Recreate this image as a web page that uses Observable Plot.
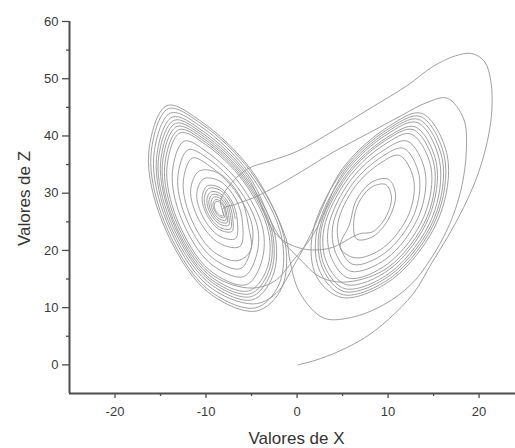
<!DOCTYPE html>
<html>
<head>
<meta charset="utf-8">
<script src="https://cdn.jsdelivr.net/npm/d3@7"></script>
<script src="https://cdn.jsdelivr.net/npm/@observablehq/plot@0.6"></script>
<style>
  body { margin: 0; background: #fff; }
  #chart { width: 515px; height: 448px; }
</style>
</head>
<body>
<div id="chart"></div>
<script>
// Trajectory of the Lorenz system projected on the X–Z plane, as [x, z] pairs in time order.

// Start near the origin, sweep up the right side, then fall toward the left focus.
const transient = [
  [0.1,0],[2,0.8],[4.5,2.3],[7.5,4.8],[10,7.9],[12.8,12.5],[14.8,17.8],[16.6,22.5],[18.3,27.5],
  [19.8,33],[20.9,39],[21.4,44.5],[21.3,49.5],[20.6,53],[19.2,54.4],[17.4,54],[15,52.2],[12,48.7],
  [8,44.8],[4,40.9],[0,37.3],[-3,35.6],[-5.5,34.2],[-7.6,31.0],[-8.4,28.6]
];

// First stay on the left wing: a tight spiral around the focus that widens into the outer band.
const leftPass1 = [
  [-8.09,26.07],[-8.51,26.18],[-8.93,26.94],[-9.09,27.91],[-8.91,28.53],[-8.49,28.42],[-8.07,27.66],[-7.91,26.69],
  [-7.83,25.3],[-8.51,25.47],[-9.19,26.71],[-9.46,28.3],[-9.17,29.3],[-8.49,29.13],[-7.81,27.89],[-7.54,26.3],
  [-7.52,24.38],[-8.52,24.63],[-9.51,26.44],[-9.91,28.76],[-9.48,30.22],[-8.48,29.97],[-7.49,28.16],[-7.09,25.84],
  [-7.16,23.31],[-8.53,23.65],[-9.88,26.13],[-10.43,29.29],[-9.84,31.29],[-8.47,30.95],[-7.12,28.47],[-6.57,25.31],
  [-6.75,22.08],[-8.54,22.52],[-10.31,25.77],[-11.02,29.9],[-10.25,32.52],[-8.46,32.08],[-6.69,28.83],[-5.98,24.7],
  [-6.28,20.7],[-8.55,21.26],[-10.79,25.36],[-11.69,30.59],[-10.72,33.9],[-8.45,33.34],[-6.21,29.24],[-5.31,24.01],
  [-5.1,20.0],
  [-6.6,18.2],[-9.35,20.0],[-11.75,26.0],[-12.5,32.0],[-11.5,36.15],[-9.6,34.75],[-6.85,30.5],[-4.95,24.5],[-5.1,20.0],
  [-6.25,16.8],[-9.45,18.9],[-12.25,25.85],[-13.1,32.8],[-11.95,37.6],[-9.75,36.0],[-6.55,31.05],[-4.35,24.1],[-4.5,18.9],
  [-5.9,15.4],[-9.55,17.75],[-12.75,25.7],[-13.7,33.6],[-12.4,39.1],[-9.9,37.2],[-6.25,31.6],[-3.75,23.7],[-3.95,17.75],
  [-5.6,14.0],[-9.65,16.6],[-13.2,25.5],[-14.3,34.4],[-12.85,40.55],[-10.05,38.5],[-5.95,32.2],[-3.15,23.3],[-3.35,16.6],
  [-5.35,12.9],[-9.75,15.8],[-13.6,25.4],[-14.8,35.0],[-13.2,41.65],[-10.15,39.4],[-5.75,32.6],[-2.7,23.0],[-2.95,15.8],
  [-5.1,11.9],[-9.8,15.0],[-13.95,25.3],[-15.25,35.6],[-13.5,42.75],[-10.25,40.3],[-5.5,33.0],[-2.25,22.7],
  [0.6,20.3],[3.6,20.4]
];

// First stay on the right wing: two small turns near the focus, then wider loops.
const rightPass1 = [
  [6.86,22.9],[8.33,23.27],[9.79,25.94],[10.37,29.34],[9.74,31.5],[8.27,31.13],[6.81,28.46],[6.23,25.06],
  [6.55,21.98],[8.34,22.42],[10.11,25.67],[10.82,29.8],[10.05,32.42],[8.26,31.98],[6.49,28.73],[5.78,24.6],
  [4.75,20.5],
  [6.4,18.7],[9.5,20.5],[12.3,26.4],[12.8,32.5],[11.25,36.6],[9.2,35.3],[6.4,31.2],[4.5,24.85],[4.75,20.5],
  [6.15,17.55],[9.65,19.55],[12.85,26.25],[13.4,33.2],[11.7,37.85],[9.35,36.4],[6.15,31.75],[3.95,24.5],[4.25,19.55],
  [5.9,16.35],[9.85,18.6],[13.4,26.1],[14.05,33.9],[12.1,39.1],[9.5,37.5],[5.9,32.3],[3.45,24.15],[3.8,18.6],
  [5.7,15.15],[10.0,17.7],[13.95,25.95],[14.7,34.6],[12.5,40.35],[9.65,38.55],[5.7,32.8],[2.95,23.8],[3.3,17.7],
  [5.45,14.0],[10.2,16.75],[14.5,25.8],[15.3,35.3],[12.95,41.6],[9.8,39.65],[5.45,33.35],[2.45,23.45],[2.85,16.75],
  [5.2,12.8],[10.35,15.8],[15.1,25.7],[15.95,36.0],[13.35,42.9],[9.9,40.7],[5.2,33.85],[1.9,23.1],
  [-0.3,18.5],[-2.6,14.5]
];

// Back on the left wing, in the outer band.
const leftPass2 = [
  [-5.45,13.45],[-9.7,16.2],[-13.4,25.45],[-14.55,34.7],[-13.0,41.1],[-10.1,38.95],[-5.85,32.4],[-2.9,23.15],[-3.15,16.2],
  [-5.2,12.4],[-9.8,15.4],[-13.75,25.35],[-15.0,35.3],[-13.35,42.2],[-10.2,39.85],[-5.65,32.8],[-2.45,22.85],[-2.7,15.4],
  [-4.95,11.35],[-9.85,14.55],[-14.15,25.2],[-15.45,35.9],[-13.7,43.3],[-10.3,40.8],[-5.4,33.25],[-2.0,22.55],
  [0.3,18.5],[2.6,15.3]
];

// Second stay on the right wing, outer band.
const rightPass2 = [
  [5.55,14.5],[10.1,17.15],[14.3,25.9],[15.05,35.0],[12.75,41.1],[9.7,39.2],[5.55,33.1],[2.65,23.6],[3.05,17.15],
  [5.3,13.3],[10.3,16.2],[14.85,25.75],[15.65,35.7],[13.2,42.35],[9.85,40.25],[5.3,33.6],[2.15,23.25],[2.55,16.2],
  [5.1,12.25],[10.45,15.4],[15.3,25.6],[16.2,36.3],[13.55,43.4],[10.0,41.2],[5.1,34.1],[1.7,22.95],[2.15,15.4],
  [5.0,11.75],[10.5,15.0],[15.55,25.55],[16.5,36.6],[13.7,43.95],[10.05,41.65],[5.0,34.3],[1.5,22.8],
  [-0.3,17.5],[-2.3,12.5]
];

// Outermost left loops.
const leftPass3 = [
  [-4.8,10.65],[-9.9,14.0],[-14.35,25.15],[-15.75,36.3],[-13.9,44.0],[-10.35,41.4],[-5.25,33.5],[-1.7,22.35],[-2.0,14.0],
  [-4.6,9.95],[-9.95,13.4],[-14.6,25.05],[-16.05,36.7],[-14.15,44.75],[-10.45,42.05],[-5.1,33.8],[-1.4,22.15],[-1.7,13.4],
  [-4.5,9.4],[-10.0,13.0],[-14.8,25.0],[-16.3,37.0],[-14.3,45.3],[-10.5,42.5],[-5.0,34.0],[-1.2,22.0],
  [-0.8,18.3],[0.3,12.6]
];

// Large right loop, then the long fall back into the left focus.
const bigLoop = [
  [2.9,8.2],[6,8.3],[9.5,10.5],[12.5,14],[14.6,18.3],[16.6,24],[18,30.5],[18.6,37.5],[18.3,43],[16.5,46.6],
  [14.2,45.8],[11.5,43.6],[8,40.6],[4,37.2],[0.5,33.8],[-2.2,31.3],[-4.5,29.4],[-6.7,28.1],[-8.2,27.2]
];

// Last turns around the left focus.
const leftPass4 = [
  [-7.98,25.76],[-8.51,25.89],[-9.03,26.85],[-9.24,28.07],[-9.02,28.84],[-8.49,28.71],[-7.97,27.75],[-7.76,26.53],
  [-7.67,24.84],[-8.52,25.05],[-9.35,26.58],[-9.69,28.53],[-9.33,29.76],[-8.48,29.55],[-7.65,28.02],[-7.31,26.07],
  [-7.31,23.77],[-8.53,24.07],[-9.72,26.26],[-10.2,29.06],[-9.69,30.83],[-8.47,30.53],[-7.28,28.34],[-6.8,25.54]
];

// Axis ticks and titles.
const xMajorTicks = [-20, -10, 0, 10, 20];
const xMinorTicks = [-15, -5, 5, 15];
const yMajorTicks = [0, 10, 20, 30, 40, 50, 60];
const yMinorTicks = [5, 15, 25, 35, 45, 55];
const xTitle = "Valores de X";
const yTitle = "Valores de Z";

const path = [
  ...transient, ...leftPass1, ...rightPass1, ...leftPass2,
  ...rightPass2, ...leftPass3, ...bigLoop, ...leftPass4
].map(([x, z]) => ({x, z}));

const axisColor = "#4d4d4d";
const fontFamily = "'Liberation Sans', Arial, sans-serif";

const chart = Plot.plot({
  width: 515,
  height: 448,
  marginLeft: 69,
  marginRight: 0,
  marginTop: 21,
  marginBottom: 55,
  x: {domain: [-25, 24]},
  y: {domain: [-5, 60]},
  style: {
    fontFamily,
    fontSize: "13px",
    color: "#3a3a3a",
    background: "#fff"
  },
  marks: [
    Plot.line(path, {x: "x", y: "z", curve: "catmull-rom", stroke: "#959595", strokeWidth: 0.9}),
    Plot.ruleY([-5], {stroke: axisColor, strokeWidth: 2}),
    Plot.ruleX([-25], {y1: -5, y2: 60, stroke: axisColor, strokeWidth: 2}),
    Plot.axisX(xMajorTicks, {tickSize: 5, tickPadding: 8, tickFormat: d => String(d), label: null, stroke: axisColor, strokeWidth: 1.3}),
    Plot.axisX(xMinorTicks, {tickSize: 3, tickFormat: () => "", label: null, stroke: axisColor, strokeWidth: 1.3}),
    Plot.axisY(yMajorTicks, {tickSize: 7, tickPadding: 4, tickFormat: d => String(d), label: null, stroke: axisColor, strokeWidth: 1.3}),
    Plot.axisY(yMinorTicks, {tickSize: 3, tickFormat: () => "", label: null, stroke: axisColor, strokeWidth: 1.3})
  ]
});

// Axis titles, centred on the x = 0 tick and on the middle of the Z axis.
const svg = d3.select(chart);
const xs = chart.scale("x"), ys = chart.scale("y");
svg.append("text")
  .attr("x", xs.apply(0)).attr("y", 444)
  .attr("text-anchor", "middle")
  .attr("font-family", fontFamily).attr("font-size", 17).attr("fill", "#333")
  .text(xTitle);
svg.append("text")
  .attr("transform", `translate(30,${ys.apply(29)}) rotate(-90)`)
  .attr("text-anchor", "middle")
  .attr("font-family", fontFamily).attr("font-size", 17).attr("fill", "#333")
  .text(yTitle);

document.getElementById("chart").append(chart);
</script>
</body>
</html>
